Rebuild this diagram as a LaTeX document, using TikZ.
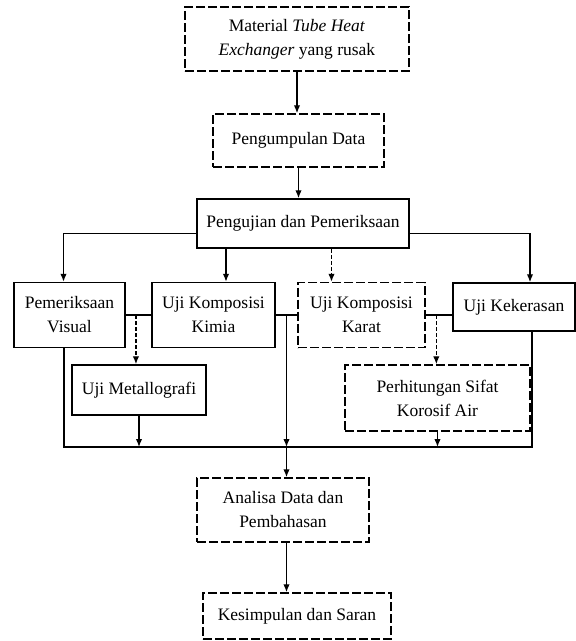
\documentclass[tikz,border=0pt]{standalone}
\usepackage{fontspec}
\setmainfont{Liberation Serif}
\usetikzlibrary{arrows.meta, positioning, calc}
\tikzset{%
  box/.style={rectangle, draw, line width=1.5pt, align=center, inner sep=2pt, font=\fontsize{17.5}{24}\selectfont},
  dashbox/.style={box, dash pattern=on 9pt off 3pt},
  line/.style={draw, line width=1.4pt, -{Latex[length=8pt, width=6.5pt]}},
  dline/.style={line, dash pattern=on 4pt off 2pt},
  bus/.style={draw, line width=1.4pt}}

\begin{document}
\begin{tikzpicture}[x=1pt, y=-1pt]
    \useasboundingbox (0, 0) rectangle (576, 641);

    \node [dashbox, minimum width=224pt, minimum height=64pt] (material) at (297, 39) {Material \textit{Tube Heat}\\\textit{Exchanger} yang rusak};
    \node [dashbox, minimum width=171pt, minimum height=53pt] (data) at (298.5, 140.5) {Pengumpulan Data};
    \node [box, minimum width=212pt, minimum height=49pt] (uji) at (303, 223.5) {Pengujian dan Pemeriksaan};

    \path [line] (material.south) -- (material.south |- data.north);
    \path [line] (data.south) -- (data.south |- uji.north);

    % row of the four tests
    \node [box, minimum width=111pt, minimum height=65pt] (visual) at (69.5, 315) {Pemeriksaan\\Visual};
    \node [box, minimum width=123pt, minimum height=65pt] (kimia) at (213.5, 315) {Uji Komposisi\\Kimia};
    \node [dashbox, minimum width=127pt, minimum height=65pt] (karat) at (361.5, 315) {Uji Komposisi\\Karat};
    \node [box, minimum width=122pt, minimum height=48pt] (keras) at (514, 307) {Uji Kekerasan};

    \path [line] ([yshift=-10pt]uji.west) -| ([xshift=-6pt]visual.north);
    \path [line] ([yshift=-10pt]uji.east) -| ([xshift=16pt]keras.north);
    \path [line] ([xshift=12.5pt]kimia.north |- uji.south) -- ([xshift=12.5pt]kimia.north);
    \path [dline] ([xshift=-30pt]karat.north |- uji.south) -- ([xshift=-30pt]karat.north);

    \node [box, minimum width=134pt, minimum height=50pt] (metalo) at (139, 390) {Uji Metallografi};
    \node [dashbox, minimum width=185pt, minimum height=66pt] (korosif) at (437.5, 398) {Perhitungan Sifat\\Korosif Air};

    \coordinate (vk) at ($(visual.east)!0.4!(kimia.west)$);
    \coordinate (kk) at ($(kimia.east)!0.5!(karat.west)$);
    \coordinate (kt) at ($(karat.east)!0.4!(karat.east -| keras.west)$);
    \path [bus] (visual.east) -- (kimia.west);
    \path [bus] (kimia.east) -- (karat.west);
    \path [bus] (karat.east) -- (karat.east -| keras.west);
    \path [dline] (vk) -- (vk |- metalo.north);
    \path [dline] (kt) -- (kt |- korosif.north);

    % collecting line
    \coordinate (bl) at (64, 447);
    \coordinate (br) at (532, 447);
    \path [bus] ([xshift=-5.5pt]visual.south) -- (bl) -- (br) -- ([xshift=18pt]keras.south);
    \path [line] (metalo.south) -- (metalo.south |- bl);
    \path [line] (korosif.south) -- (korosif.south |- bl);
    \path [line] (kk) -- (kk |- bl);

    \node [dashbox, minimum width=172pt, minimum height=64pt] (analisa) at (283, 510) {Analisa Data dan\\Pembahasan};
    \node [dashbox, minimum width=188pt, minimum height=46pt] (simpul) at (297, 616) {Kesimpulan dan Saran};

    \path [line] (kk |- bl) -- (kk |- analisa.north);
    \path [line] (kk |- analisa.south) -- (kk |- simpul.north);
\end{tikzpicture}
\end{document}
